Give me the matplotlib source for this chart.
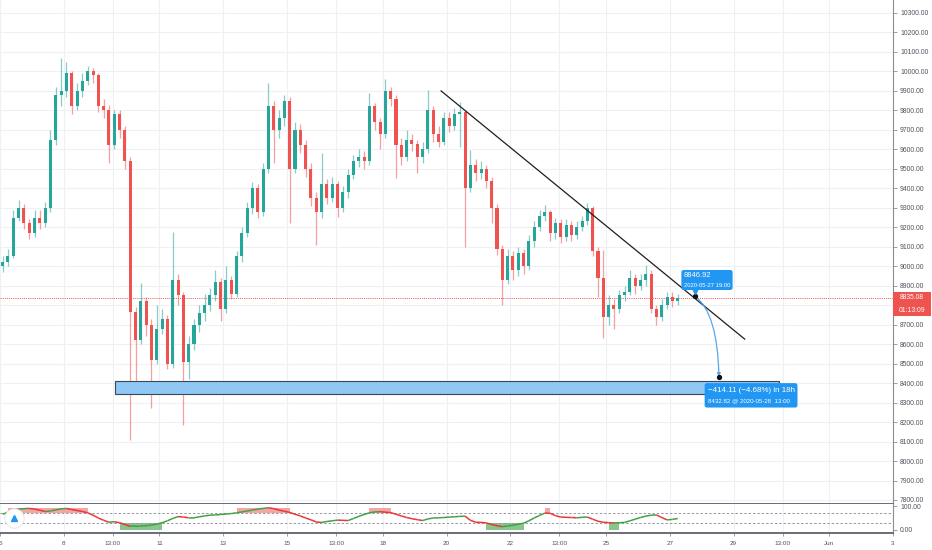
import matplotlib
matplotlib.use('Agg')
import matplotlib.pyplot as plt
import numpy as np
from matplotlib.patches import Rectangle, FancyBboxPatch, FancyArrowPatch
from matplotlib.path import Path
from matplotlib.collections import LineCollection

plt.rcParams['font.family'] = ['Liberation Sans', 'DejaVu Sans']

# BTC/USD 4h candles, starting 2020-05-06 00:00 (x axis = day of May)
first_open = 9000
closes = [9020, 9050, 9250, 9300, 9220, 9170, 9250, 9220, 9300, 9650,
          9880, 9900, 9990, 9820, 9900, 9950, 10000, 9980, 9820, 9800,
          9620, 9780, 9700, 9540, 8765, 8620, 8820, 8700, 8520, 8680,
          8730, 8500, 8930, 8850, 8510, 8600, 8700, 8760, 8800, 8850,
          8920, 8780, 8930, 8860, 9050, 9170, 9300, 9400, 9280, 9500,
          9820, 9700, 9760, 9850, 9500, 9700, 9620, 9500, 9350, 9280,
          9420, 9350, 9420, 9300, 9380, 9470, 9540, 9560, 9540, 9820,
          9740, 9680, 9900, 9860, 9620, 9560, 9650, 9630, 9560, 9600,
          9800, 9680, 9640, 9760, 9720, 9780, 9790, 9400, 9520, 9480,
          9500, 9440, 9300, 9090, 8930, 9050, 8980, 9070, 9000, 9130,
          9200, 9260, 9280, 9170, 9220, 9150, 9210, 9160, 9200, 9230,
          9300, 9080, 8940, 8740, 8800, 8780, 8850, 8870, 8940, 8900,
          8930, 8960, 8780, 8740, 8800, 8840, 8820, 8835.08]
highs = [9050, 9090, 9290, 9340, 9320, 9240, 9290, 9290, 9330, 9700,
         9920, 10069, 10050, 10000, 9940, 9990, 10030, 10020, 9990, 9860,
         9830, 9800, 9800, 9720, 9560, 8790, 8914, 8840, 8730, 8800,
         8780, 8750, 9175, 8960, 8870, 8640, 8730, 8800, 8860, 8890,
         8980, 8940, 9000, 8950, 9080, 9200, 9330, 9430, 9420, 9530,
         9940, 9850, 9800, 9880, 9870, 9740, 9730, 9650, 9530, 9380,
         9580, 9450, 9460, 9440, 9410, 9500, 9570, 9600, 9590, 9890,
         9840, 9760, 9961, 9920, 9880, 9660, 9700, 9680, 9650, 9640,
         9905, 9820, 9720, 9790, 9790, 9810, 9843, 9800, 9597, 9550,
         9540, 9520, 9460, 9320, 9110, 9090, 9080, 9100, 9090, 9160,
         9230, 9290, 9314, 9290, 9250, 9240, 9240, 9230, 9230, 9260,
         9325, 9310, 9100, 9083, 8850, 8830, 8880, 8900, 8981, 8960,
         8960, 9006, 8980, 8800, 8830, 8870, 8870, 8860]
lows = [8970, 9000, 9040, 9230, 9190, 9140, 9150, 9190, 9200, 9280,
        9620, 9820, 9870, 9780, 9800, 9870, 9930, 9940, 9790, 9760,
        9530, 9600, 9660, 9500, 8110, 8350, 8600, 8640, 8270, 8500,
        8650, 8470, 8480, 8800, 8185, 8420, 8570, 8660, 8720, 8770,
        8820, 8720, 8760, 8830, 8840, 9020, 9150, 9270, 9250, 9260,
        9480, 9530, 9660, 9720, 9222, 9480, 9580, 9460, 9310, 9109,
        9250, 9320, 9330, 9253, 9280, 9350, 9450, 9510, 9500, 9520,
        9700, 9600, 9660, 9820, 9453, 9520, 9540, 9590, 9480, 9530,
        9580, 9640, 9610, 9620, 9690, 9700, 9612, 9100, 9380, 9440,
        9450, 9400, 9222, 9060, 8800, 8910, 8930, 8950, 8960, 8980,
        9100, 9180, 9230, 9130, 9140, 9120, 9130, 9130, 9140, 9180,
        9210, 9050, 8842, 8632, 8700, 8680, 8760, 8820, 8850, 8860,
        8880, 8900, 8760, 8698, 8720, 8780, 8790, 8800]
rsi = [66, 75, 84, 88, 90, 91, 88, 83, 78, 80,
       85, 89, 91, 86, 82, 78, 72, 62, 50, 40,
       32, 34, 30, 22, 14, 14, 16, 17, 20, 24,
       30, 38, 48, 56, 54, 51, 51, 55, 59, 62,
       63, 65, 67, 69, 72, 76, 80, 84, 88, 91,
       94, 90, 84, 79, 74, 66, 59, 50, 42, 33,
       31, 35, 38, 41, 40, 39, 48, 57, 65, 72,
       76, 77, 75, 73, 66, 59, 52, 47, 43, 39,
       46, 50, 51, 52, 54, 55, 57, 58, 40, 32,
       31, 29, 22, 17, 13, 16, 19, 23, 28, 38,
       50, 61, 71, 70, 60, 54, 53, 52, 51, 53,
       54, 45, 36, 32, 30, 29, 30, 31, 38, 45,
       52, 58, 62, 63, 52, 42, 44, 48]

day_ticks = [6, 8, 9.5417, 11, 13, 15, 16.5417, 18, 20, 22, 23.5417, 25, 27, 29, 30.5417, 32, 34]
day_labels = ['6', '8', '13:00', '11', '13', '15', '13:00', '18', '20', '22', '13:00',
              '25', '27', '29', '13:00', 'Jun', '3']
price_ticks = list(range(7800, 10400, 100))

last_price = 8835.08
countdown = '01:13:09'
trend_days = [19.83, 29.35]
trend_prices = [9900, 8626]
zone_days = [9.6, 30.41]
zone_prices = [8343, 8412]
proj_days = [27.7917, 28.5417]      # 2020-05-27 19:00 -> 2020-05-28 13:00
proj_prices = [8846.92, 8432.82]
proj_change = 414.11
proj_pct = 4.68

green = '#26a69a'
red = '#ef5350'
grid_c = '#eef0f5'
text_c = '#50535e'
axis_c = '#8a8d96'

opens = [first_open] + closes[:-1]
o = np.array(opens)
c = np.array(closes)
h = np.array(highs)
l = np.array(lows)
t = 6 + (np.arange(len(c)) + 0.5) / 6.0
up = c >= o
cols = np.where(up, green, red)

fig = plt.figure(figsize=(9.32, 5.5), dpi=100)
ax = fig.add_axes([0, 46.5 / 550, 893 / 932, 503.5 / 550])
ax2 = fig.add_axes([0, 17.5 / 550, 893 / 932, 29 / 550])

# main pane
ax.set_xlim(6, 34)
ax.set_ylim(7782, 10366.7)
for d in day_ticks:
    ax.axvline(d, color=grid_c, lw=0.8, zorder=0)
    ax2.axvline(d, color=grid_c, lw=0.8, zorder=0)
for p in price_ticks:
    ax.axhline(p, color=grid_c, lw=0.8, zorder=0)

ax.vlines(t, l, h, colors=cols, lw=0.9, alpha=0.55, zorder=2)
body = np.maximum(np.abs(c - o), 6)
ax.bar(t, body, bottom=np.minimum(o, c), width=0.095, color=cols, zorder=3, linewidth=0)

ax.axhline(last_price, color=red, lw=0.7, ls=(0, (1, 1.2)), zorder=1)

# support zone
ax.add_patch(Rectangle((zone_days[0], zone_prices[0]), zone_days[1] - zone_days[0],
                       zone_prices[1] - zone_prices[0], facecolor='#90c8f5',
                       edgecolor='#3b4656', lw=0.8, zorder=4))

# trend line
ax.plot(trend_days, trend_prices, color='#1e1e1e', lw=0.9, zorder=5)

# projection arrow
ctrl = (28.50, 8760)
path = Path([(proj_days[0], proj_prices[0]), ctrl, (proj_days[1], proj_prices[1])],
            [Path.MOVETO, Path.CURVE3, Path.CURVE3])
ax.add_patch(FancyArrowPatch(path=path, arrowstyle='-|>', mutation_scale=5,
                             color='#5aa7ea', lw=0.9, zorder=6))
ax.plot(proj_days, proj_prices, 'o', color='#111111', ms=2.8, zorder=7)

asp = (2584.7 / 503.5) / (28 / 893)
ax.add_patch(FancyBboxPatch((27.365, 8878), 1.606, 102.7,
                            boxstyle='round,pad=0,rounding_size=0.07',
                            mutation_aspect=asp, facecolor='#2196f3', lw=0, zorder=8))
ax.plot([proj_days[0]], [8872], marker='v', color='#2196f3', ms=4, zorder=8)
ax.text(27.45, 8950, '%.2f' % proj_prices[0], color='white', fontsize=5.4,
        va='center', ha='left', zorder=9)
ax.text(27.45, 8903, '2020-05-27 19:00', color='white', fontsize=4.2,
        va='center', ha='left', zorder=9)

ax.add_patch(FancyBboxPatch((28.094, 8274.6), 2.911, 125.3,
                            boxstyle='round,pad=0,rounding_size=0.07',
                            mutation_aspect=asp, facecolor='#2196f3', lw=0, zorder=8))
ax.text(28.19, 8360, '\u2212%.2f (\u2212%.2f%%) in 18h' % (proj_change, proj_pct),
        color='white', fontsize=5.7, va='center', ha='left', zorder=9)
ax.text(28.19, 8308, '%.2f @ 2020-05-28  13:00' % proj_prices[1], color='white',
        fontsize=4.4, va='center', ha='left', zorder=9)

ax.set_xticks(day_ticks)
ax.set_xticklabels([])
ax.tick_params(axis='x', length=0)
ax.yaxis.tick_right()
ax.set_yticks(price_ticks)
# the 8800 label sits under the last-price tag
ax.set_yticklabels(['' if p == 8800 else '%.2f' % p for p in price_ticks])
ax.tick_params(axis='y', length=3, width=0.6, color=axis_c, labelsize=4.9,
               labelcolor=text_c, pad=2)
for s in ['top', 'left']:
    ax.spines[s].set_visible(False)
ax.spines['right'].set_color(axis_c)
ax.spines['right'].set_linewidth(0.8)
ax.spines['bottom'].set_color('#6a6d78')
ax.spines['bottom'].set_linewidth(1.4)

# last price label
ytr = ax.get_yaxis_transform()
ax.add_patch(Rectangle((1.0, 8744), 0.042, 124, transform=ytr, facecolor=red,
                       lw=0, clip_on=False, zorder=10))
ax.text(1.021, last_price + 2, '%.2f' % last_price, transform=ytr, color='white',
        fontsize=4.9, ha='center', va='center', clip_on=False, zorder=11)
ax.text(1.021, 8772, countdown, transform=ytr, color='white', fontsize=4.9,
        ha='center', va='center', clip_on=False, zorder=11)

# indicator pane
ax2.set_xlim(6, 34)
ax2.set_ylim(-12, 112)
r = np.array(rsi, dtype=float)
ax2.fill_between(t, 70, 94, where=r >= 70, step='mid', color='#f59a9a', alpha=0.9,
                 lw=0, zorder=1)
ax2.fill_between(t, 0, 30, where=r <= 30, step='mid', color='#6bb86e', alpha=0.8,
                 lw=0, zorder=1)
ax2.axhline(70, color='#9598a1', lw=0.7, ls=(0, (2.5, 2)), zorder=2)
ax2.axhline(30, color='#9598a1', lw=0.7, ls=(0, (2.5, 2)), zorder=2)
pts = np.column_stack([t, r])
segs = np.stack([pts[:-1], pts[1:]], axis=1)
seg_cols = np.where(np.diff(r) >= 0, '#43a047', '#e53935')
ax2.add_collection(LineCollection(segs, colors=seg_cols, linewidths=1.1, zorder=3))

# logo
ax2.plot([6.45], [52], 'o', ms=14, mfc='white', mec='#e0e3eb', mew=0.6, zorder=5,
         clip_on=False)
ax2.plot([6.45], [50], '^', ms=5, color='#2196f3', zorder=6, clip_on=False)

ax2.set_xticks(day_ticks)
ax2.set_xticklabels(day_labels)
ax2.tick_params(axis='x', length=2, width=0.6, color=axis_c, labelsize=4.6,
                labelcolor=text_c, pad=4)
ax2.yaxis.tick_right()
ax2.set_yticks([0, 100])
ax2.set_yticklabels(['0.00', '100.00'])
ax2.tick_params(axis='y', length=3, width=0.6, color=axis_c, labelsize=4.9,
                labelcolor=text_c, pad=2)
for s in ['top', 'left']:
    ax2.spines[s].set_visible(False)
ax2.spines['right'].set_color(axis_c)
ax2.spines['right'].set_linewidth(0.8)
ax2.spines['bottom'].set_color('#6a6d78')
ax2.spines['bottom'].set_linewidth(1.4)

fig.savefig('out.png', dpi=100)
